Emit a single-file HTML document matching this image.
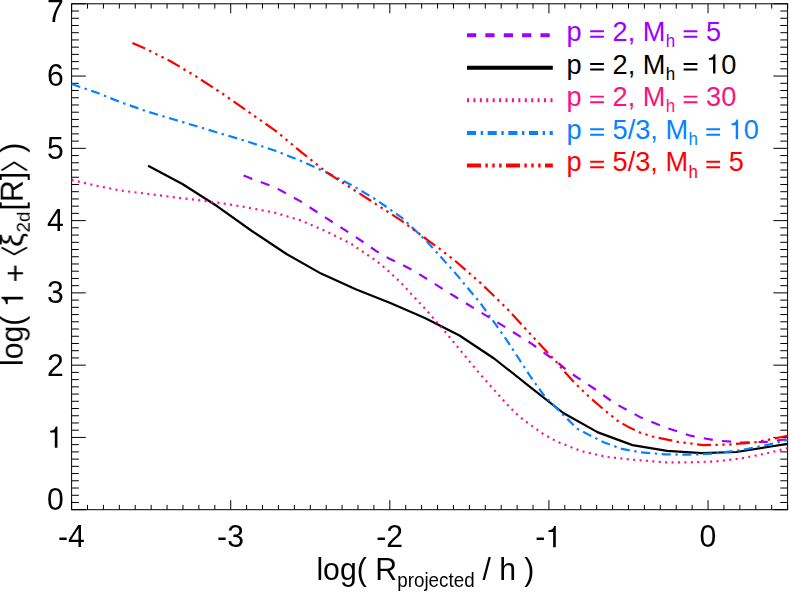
<!DOCTYPE html>
<html><head><meta charset="utf-8"><title>chart</title>
<style>
html,body{margin:0;padding:0;background:#fff;}
body{width:789px;height:593px;overflow:hidden;font-family:"Liberation Sans",sans-serif;}
svg{display:block;}
text{font-family:"Liberation Sans",sans-serif;}
</style></head><body>
<svg width="789" height="593" viewBox="0 0 789 593">
<rect width="789" height="593" fill="#fff"/>
<g stroke="#000" stroke-width="1" fill="none">
<rect x="71.60" y="3.80" width="716.00" height="505.90"/>
<path d="M71.60 509.70V500.20M71.60 3.80V13.30M87.51 509.70V504.90M87.51 3.80V8.60M103.42 509.70V504.90M103.42 3.80V8.60M119.33 509.70V504.90M119.33 3.80V8.60M135.24 509.70V504.90M135.24 3.80V8.60M151.16 509.70V504.90M151.16 3.80V8.60M167.07 509.70V504.90M167.07 3.80V8.60M182.98 509.70V504.90M182.98 3.80V8.60M198.89 509.70V504.90M198.89 3.80V8.60M214.80 509.70V504.90M214.80 3.80V8.60M230.71 509.70V500.20M230.71 3.80V13.30M246.62 509.70V504.90M246.62 3.80V8.60M262.53 509.70V504.90M262.53 3.80V8.60M278.44 509.70V504.90M278.44 3.80V8.60M294.36 509.70V504.90M294.36 3.80V8.60M310.27 509.70V504.90M310.27 3.80V8.60M326.18 509.70V504.90M326.18 3.80V8.60M342.09 509.70V504.90M342.09 3.80V8.60M358.00 509.70V504.90M358.00 3.80V8.60M373.91 509.70V504.90M373.91 3.80V8.60M389.82 509.70V500.20M389.82 3.80V13.30M405.73 509.70V504.90M405.73 3.80V8.60M421.64 509.70V504.90M421.64 3.80V8.60M437.56 509.70V504.90M437.56 3.80V8.60M453.47 509.70V504.90M453.47 3.80V8.60M469.38 509.70V504.90M469.38 3.80V8.60M485.29 509.70V504.90M485.29 3.80V8.60M501.20 509.70V504.90M501.20 3.80V8.60M517.11 509.70V504.90M517.11 3.80V8.60M533.02 509.70V504.90M533.02 3.80V8.60M548.93 509.70V500.20M548.93 3.80V13.30M564.84 509.70V504.90M564.84 3.80V8.60M580.76 509.70V504.90M580.76 3.80V8.60M596.67 509.70V504.90M596.67 3.80V8.60M612.58 509.70V504.90M612.58 3.80V8.60M628.49 509.70V504.90M628.49 3.80V8.60M644.40 509.70V504.90M644.40 3.80V8.60M660.31 509.70V504.90M660.31 3.80V8.60M676.22 509.70V504.90M676.22 3.80V8.60M692.13 509.70V504.90M692.13 3.80V8.60M708.04 509.70V500.20M708.04 3.80V13.30M723.96 509.70V504.90M723.96 3.80V8.60M739.87 509.70V504.90M739.87 3.80V8.60M755.78 509.70V504.90M755.78 3.80V8.60M771.69 509.70V504.90M771.69 3.80V8.60M787.60 509.70V504.90M787.60 3.80V8.60M71.60 509.70H85.80M787.60 509.70H773.40M71.60 502.47H78.90M787.60 502.47H780.30M71.60 495.25H78.90M787.60 495.25H780.30M71.60 488.02H78.90M787.60 488.02H780.30M71.60 480.79H78.90M787.60 480.79H780.30M71.60 473.56H78.90M787.60 473.56H780.30M71.60 466.34H78.90M787.60 466.34H780.30M71.60 459.11H78.90M787.60 459.11H780.30M71.60 451.88H78.90M787.60 451.88H780.30M71.60 444.66H78.90M787.60 444.66H780.30M71.60 437.43H85.80M787.60 437.43H773.40M71.60 430.20H78.90M787.60 430.20H780.30M71.60 422.97H78.90M787.60 422.97H780.30M71.60 415.75H78.90M787.60 415.75H780.30M71.60 408.52H78.90M787.60 408.52H780.30M71.60 401.29H78.90M787.60 401.29H780.30M71.60 394.07H78.90M787.60 394.07H780.30M71.60 386.84H78.90M787.60 386.84H780.30M71.60 379.61H78.90M787.60 379.61H780.30M71.60 372.38H78.90M787.60 372.38H780.30M71.60 365.16H85.80M787.60 365.16H773.40M71.60 357.93H78.90M787.60 357.93H780.30M71.60 350.70H78.90M787.60 350.70H780.30M71.60 343.48H78.90M787.60 343.48H780.30M71.60 336.25H78.90M787.60 336.25H780.30M71.60 329.02H78.90M787.60 329.02H780.30M71.60 321.79H78.90M787.60 321.79H780.30M71.60 314.57H78.90M787.60 314.57H780.30M71.60 307.34H78.90M787.60 307.34H780.30M71.60 300.11H78.90M787.60 300.11H780.30M71.60 292.89H85.80M787.60 292.89H773.40M71.60 285.66H78.90M787.60 285.66H780.30M71.60 278.43H78.90M787.60 278.43H780.30M71.60 271.20H78.90M787.60 271.20H780.30M71.60 263.98H78.90M787.60 263.98H780.30M71.60 256.75H78.90M787.60 256.75H780.30M71.60 249.52H78.90M787.60 249.52H780.30M71.60 242.30H78.90M787.60 242.30H780.30M71.60 235.07H78.90M787.60 235.07H780.30M71.60 227.84H78.90M787.60 227.84H780.30M71.60 220.61H85.80M787.60 220.61H773.40M71.60 213.39H78.90M787.60 213.39H780.30M71.60 206.16H78.90M787.60 206.16H780.30M71.60 198.93H78.90M787.60 198.93H780.30M71.60 191.71H78.90M787.60 191.71H780.30M71.60 184.48H78.90M787.60 184.48H780.30M71.60 177.25H78.90M787.60 177.25H780.30M71.60 170.02H78.90M787.60 170.02H780.30M71.60 162.80H78.90M787.60 162.80H780.30M71.60 155.57H78.90M787.60 155.57H780.30M71.60 148.34H85.80M787.60 148.34H773.40M71.60 141.12H78.90M787.60 141.12H780.30M71.60 133.89H78.90M787.60 133.89H780.30M71.60 126.66H78.90M787.60 126.66H780.30M71.60 119.43H78.90M787.60 119.43H780.30M71.60 112.21H78.90M787.60 112.21H780.30M71.60 104.98H78.90M787.60 104.98H780.30M71.60 97.75H78.90M787.60 97.75H780.30M71.60 90.53H78.90M787.60 90.53H780.30M71.60 83.30H78.90M787.60 83.30H780.30M71.60 76.07H85.80M787.60 76.07H773.40M71.60 68.84H78.90M787.60 68.84H780.30M71.60 61.62H78.90M787.60 61.62H780.30M71.60 54.39H78.90M787.60 54.39H780.30M71.60 47.16H78.90M787.60 47.16H780.30M71.60 39.94H78.90M787.60 39.94H780.30M71.60 32.71H78.90M787.60 32.71H780.30M71.60 25.48H78.90M787.60 25.48H780.30M71.60 18.25H78.90M787.60 18.25H780.30M71.60 11.03H78.90M787.60 11.03H780.30M71.60 3.80H85.80M787.60 3.80H773.40"/>
</g>
<g fill="none" stroke-linecap="butt" stroke-linejoin="round" stroke-width="2.2">
<polyline stroke="#9d00ff" stroke-dasharray="9.22 9.15" points="243.6,175.5 250.0,178.1 275.3,187.5 300.7,201.4 326.0,217.9 351.4,234.2 364.0,242.6 376.7,251.4 389.0,258.5 402.1,264.7 414.0,270.8 427.4,279.3 455.3,296.8 480.7,312.3 506.0,327.6 531.4,343.6 556.7,361.8 569.4,372.2 594.8,389.0 614.3,403.1 639.7,416.9 665.0,427.3 690.4,435.7 715.7,440.5 741.1,442.5 766.4,441.8 787.5,439.2"/>
<polyline stroke="#000" points="148.1,165.7 182.4,184.0 217.3,206.3 251.9,231.0 286.5,254.0 321.1,273.6 355.7,289.3 390.3,303.1 424.9,318.0 459.5,335.5 494.1,358.5 528.7,385.8 563.3,413.0 597.9,432.4 632.5,445.1 667.1,450.8 701.7,453.2 736.3,452.0 770.9,446.5 787.5,443.8"/>
<polyline stroke="#ff1080" stroke-dasharray="2.0 4.42" points="71.6,179.9 95.3,185.5 120.7,190.6 146.0,193.6 171.4,196.9 196.7,199.9 222.1,203.2 247.4,207.5 275.3,212.8 300.7,220.4 326.0,231.2 351.4,244.0 368.4,255.5 376.7,261.1 389.0,271.5 402.1,284.0 427.4,311.3 445.2,331.8 460.4,350.4 480.7,375.0 506.0,403.2 514.0,411.5 521.8,418.5 531.4,425.6 542.8,433.7 556.7,441.6 582.1,451.4 607.4,457.0 630.3,459.5 665.0,462.3 690.4,462.3 715.7,461.4 741.1,458.4 766.4,453.4 787.5,448.2"/>
<polyline stroke="#0682ff" stroke-dasharray="9.1 4.58 2.4 4.57" points="71.6,84.0 95.3,92.1 120.7,102.2 146.0,111.1 171.4,118.7 196.7,126.3 222.1,133.9 247.4,141.5 275.3,150.7 300.7,160.8 326.0,172.2 351.4,184.9 376.7,200.1 402.1,217.9 427.4,242.0 455.3,273.1 480.7,303.5 506.0,339.0 531.4,378.0 544.1,395.6 561.8,413.4 577.0,428.6 589.0,434.9 604.2,442.5 622.0,448.9 639.7,452.2 665.0,454.4 690.4,454.7 715.7,453.4 741.1,450.1 766.4,445.1 787.5,440.0"/>
<polyline stroke="#ff0000" stroke-dasharray="13.95 4.43 2.4 4.5 2.4 4.5 2.4 4.44" points="132.4,42.9 146.0,49.0 171.4,61.7 196.7,76.9 222.1,93.4 247.4,111.1 275.3,130.6 300.7,151.6 326.0,171.8 351.4,188.3 376.7,204.6 402.1,221.2 427.4,239.8 442.6,251.0 455.3,261.0 480.7,283.1 506.0,307.6 531.4,335.2 556.7,362.3 565.0,372.3 574.0,382.2 588.1,395.9 602.9,408.8 617.6,420.8 629.6,427.6 640.0,432.6 652.4,436.5 677.7,441.8 703.1,445.1 728.4,444.6 753.8,442.5 771.5,439.2 787.5,435.7"/>
</g>
<g fill="#000" opacity="0.999">
<g transform="translate(71.40,547.30) scale(1,1.05)"><text x="-13.43 -3.37" y="0.00" font-size="30.20">-4</text></g>
<g transform="translate(230.51,547.30) scale(1,1.05)"><text x="-13.43 -3.37" y="0.00" font-size="30.20">-3</text></g>
<g transform="translate(389.62,547.30) scale(1,1.05)"><text x="-13.43 -3.37" y="0.00" font-size="30.20">-2</text></g>
<g transform="translate(548.73,547.30) scale(1,1.05)"><text x="-13.43" y="0.00" font-size="30.20">-</text>
<path d="M346 0 L258 0 L258 505 L103 505 L103 566 C205 572 262 610 289 709 L346 709 Z" transform="translate(-3.37,0.00) scale(0.03020,-0.02876)"/></g>
<g transform="translate(707.84,547.30) scale(1,1.05)"><text x="-8.40" y="0.00" font-size="30.20">0</text></g>
<g transform="translate(63.80,510.10) scale(1,1.05)"><text x="-16.80" y="0.00" font-size="30.20">0</text></g>
<g transform="translate(63.80,447.83) scale(1,1.05)"><path d="M346 0 L258 0 L258 505 L103 505 L103 566 C205 572 262 610 289 709 L346 709 Z" transform="translate(-16.80,0.00) scale(0.03020,-0.02876)"/></g>
<g transform="translate(63.80,375.56) scale(1,1.05)"><text x="-16.80" y="0.00" font-size="30.20">2</text></g>
<g transform="translate(63.80,303.29) scale(1,1.05)"><text x="-16.80" y="0.00" font-size="30.20">3</text></g>
<g transform="translate(63.80,231.01) scale(1,1.05)"><text x="-16.80" y="0.00" font-size="30.20">4</text></g>
<g transform="translate(63.80,158.74) scale(1,1.05)"><text x="-16.80" y="0.00" font-size="30.20">5</text></g>
<g transform="translate(63.80,86.47) scale(1,1.05)"><text x="-16.80" y="0.00" font-size="30.20">6</text></g>
<g transform="translate(63.80,21.50) scale(1,1.05)"><text x="-16.80" y="0.00" font-size="30.20">7</text></g>
<g transform="translate(316.40,580.20) scale(1,1.04)"><text x="0.00 6.71 23.51 40.30 58.75" y="0.00" font-size="30.20">log(R</text>
<text x="80.86 91.31 97.57 108.03 112.21 122.66 132.06 137.29 147.74" y="6.80" font-size="18.80">projected</text>
<text x="165.99 182.77 207.95" y="0.00" font-size="30.20">/h)</text></g>
<g transform="translate(23.00,366.00) rotate(-90) scale(1,1.01)"><text x="0.00 6.71 23.51 40.30" y="0.00" font-size="30.20">log(</text>
<path d="M346 0 L258 0 L258 505 L103 505 L103 566 C205 572 262 610 289 709 L346 709 Z" transform="translate(58.75,0.00) scale(0.03020,-0.02990)"/>
<path d="M39 217H257V0H327V217H545V288H327V505H257V288H39Z" transform="translate(83.93,0.00) scale(0.03020,-0.02990)"/>
<path d="M118.60 -21.30L111.60 -8.65L118.60 4.00" fill="none" stroke="#000" stroke-width="1.8" stroke-linejoin="miter"/>
<text x="119.0" y="0" font-size="31.20" textLength="14" lengthAdjust="spacingAndGlyphs">&#x3BE;</text>
<text x="133.60 144.06" y="6.80" font-size="18.80">2d</text>
<text x="155.60 163.99 185.80" y="0.00" font-size="30.20">[R]</text>
<path d="M195.60 -21.30L203.60 -8.65L195.60 4.00" fill="none" stroke="#000" stroke-width="1.8" stroke-linejoin="miter"/>
<text x="213.30" y="0.00" font-size="30.20">)</text></g>
</g>
<g fill="none" stroke-width="4.1">
<line x1="467.0" x2="552.8" y1="35.3" y2="35.3" stroke="#9d00ff" stroke-dasharray="9.22 9.15"/>
<line x1="467.0" x2="552.8" y1="67.7" y2="67.7" stroke="#000"/>
<line x1="467.0" x2="552.8" y1="100.3" y2="100.3" stroke="#ff1080" stroke-dasharray="2.0 4.42"/>
<line x1="467.0" x2="552.8" y1="133.0" y2="133.0" stroke="#0682ff" stroke-dasharray="9.1 4.58 2.4 4.57"/>
<line x1="467.0" x2="552.8" y1="165.5" y2="165.5" stroke="#ff0000" stroke-dasharray="13.95 4.43 2.4 4.5 2.4 4.5 2.4 4.44"/>
</g>
<g opacity="0.999">
<g transform="translate(566.40,40.90) scale(1,1.045)"><text x="0.00 46.13 61.25 76.37" y="0.00" font-size="27.20" fill="#9d00ff">p2,M</text>
<path d="M39 115H545V186H39Z M39 319H545V390H39Z" transform="translate(22.68,0.00) scale(0.02720,-0.02603)" fill="#9d00ff"/>
<text x="99.43" y="5.90" font-size="16.90" fill="#9d00ff">h</text>
<text x="139.62" y="0.00" font-size="27.20" fill="#9d00ff">5</text>
<path d="M39 115H545V186H39Z M39 319H545V390H39Z" transform="translate(116.18,0.00) scale(0.02720,-0.02603)" fill="#9d00ff"/></g>
<g transform="translate(566.40,73.60) scale(1,1.045)"><text x="0.00 46.13 61.25 76.37" y="0.00" font-size="27.20" fill="#000">p2,M</text>
<path d="M39 115H545V186H39Z M39 319H545V390H39Z" transform="translate(22.68,0.00) scale(0.02720,-0.02603)" fill="#000"/>
<text x="99.43" y="5.90" font-size="16.90" fill="#000">h</text>
<text x="154.75" y="0.00" font-size="27.20" fill="#000">0</text>
<path d="M39 115H545V186H39Z M39 319H545V390H39Z" transform="translate(116.18,0.00) scale(0.02720,-0.02603)" fill="#000"/>
<path d="M346 0 L258 0 L258 505 L103 505 L103 566 C205 572 262 610 289 709 L346 709 Z" transform="translate(139.62,0.00) scale(0.02720,-0.02603)" fill="#000"/></g>
<g transform="translate(566.40,106.30) scale(1,1.045)"><text x="0.00 46.13 61.25 76.37" y="0.00" font-size="27.20" fill="#ff1080">p2,M</text>
<path d="M39 115H545V186H39Z M39 319H545V390H39Z" transform="translate(22.68,0.00) scale(0.02720,-0.02603)" fill="#ff1080"/>
<text x="99.43" y="5.90" font-size="16.90" fill="#ff1080">h</text>
<text x="139.62 154.75" y="0.00" font-size="27.20" fill="#ff1080">30</text>
<path d="M39 115H545V186H39Z M39 319H545V390H39Z" transform="translate(116.18,0.00) scale(0.02720,-0.02603)" fill="#ff1080"/></g>
<g transform="translate(566.40,138.90) scale(1,1.045)"><text x="0.00 46.13 61.25 68.81 83.94 99.05" y="0.00" font-size="27.20" fill="#0682ff">p5/3,M</text>
<path d="M39 115H545V186H39Z M39 319H545V390H39Z" transform="translate(22.68,0.00) scale(0.02720,-0.02603)" fill="#0682ff"/>
<text x="122.11" y="5.90" font-size="16.90" fill="#0682ff">h</text>
<text x="177.43" y="0.00" font-size="27.20" fill="#0682ff">0</text>
<path d="M39 115H545V186H39Z M39 319H545V390H39Z" transform="translate(138.87,0.00) scale(0.02720,-0.02603)" fill="#0682ff"/>
<path d="M346 0 L258 0 L258 505 L103 505 L103 566 C205 572 262 610 289 709 L346 709 Z" transform="translate(162.31,0.00) scale(0.02720,-0.02603)" fill="#0682ff"/></g>
<g transform="translate(566.40,171.40) scale(1,1.045)"><text x="0.00 46.13 61.25 68.81 83.94 99.05" y="0.00" font-size="27.20" fill="#ff0000">p5/3,M</text>
<path d="M39 115H545V186H39Z M39 319H545V390H39Z" transform="translate(22.68,0.00) scale(0.02720,-0.02603)" fill="#ff0000"/>
<text x="122.11" y="5.90" font-size="16.90" fill="#ff0000">h</text>
<text x="162.31" y="0.00" font-size="27.20" fill="#ff0000">5</text>
<path d="M39 115H545V186H39Z M39 319H545V390H39Z" transform="translate(138.87,0.00) scale(0.02720,-0.02603)" fill="#ff0000"/></g>
</g>
</svg>
</body></html>
